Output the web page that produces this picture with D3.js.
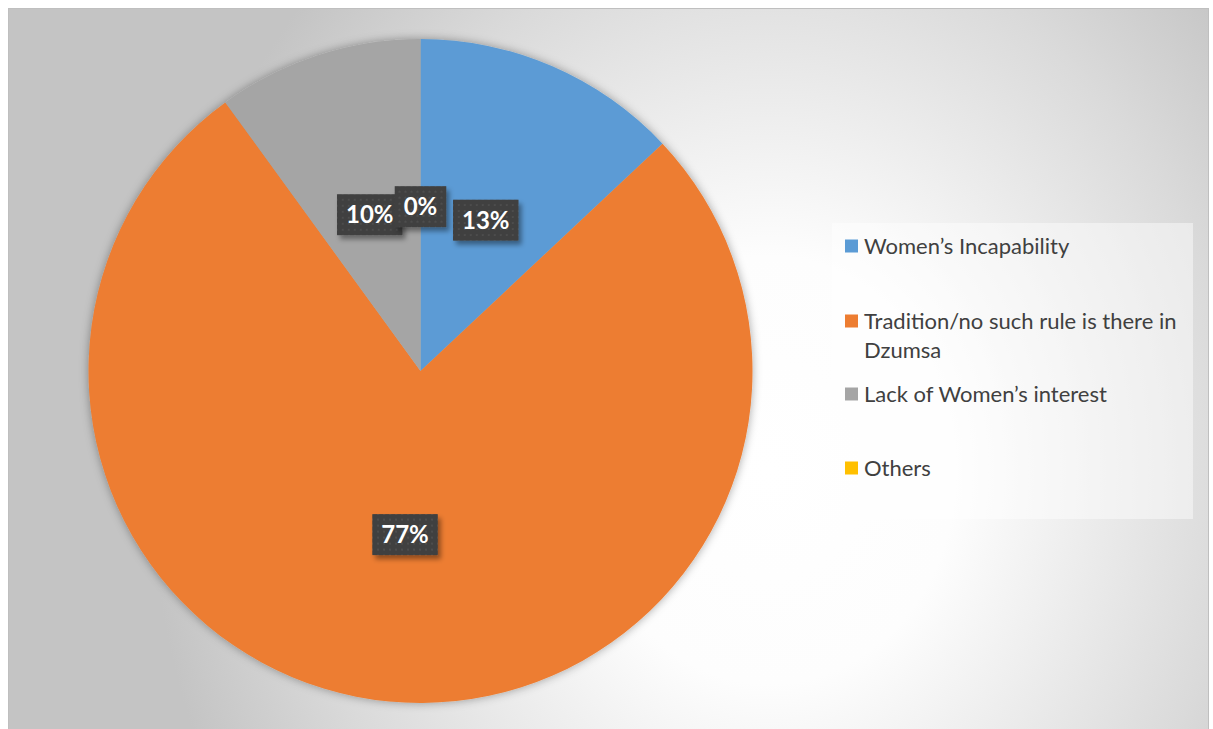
<!DOCTYPE html>
<html>
<head>
<meta charset="utf-8">
<script src="https://cdn.jsdelivr.net/npm/d3@7"></script>
<style>
  body { margin: 0; background: #fff; }
  svg { display: block; }
</style>
</head>
<body>
<svg id="chart"></svg>
<script>
// data
const categories = ["Women\u2019s Incapability", "Tradition/no such rule is there in Dzumsa", "Lack of Women\u2019s interest", "Others"];
const values = [13, 77, 10, 0];
const labels = ["13%", "77%", "10%", "0%"];
const colors = ["#5b9bd5", "#ed7d31", "#a5a5a5", "#ffc000"];
// legend lines (wrapped like the original)
const legendLines = [["Women\u2019s Incapability"], ["Tradition/no such rule is there in", "Dzumsa"], ["Lack of Women\u2019s interest"], ["Others"]];

const W = 1213, H = 729;
const svg = d3.select("#chart").attr("width", W).attr("height", H);
const defs = svg.append("defs");

// background gradient
const bg = defs.append("radialGradient")
    .attr("id", "bg")
    .attr("gradientUnits", "userSpaceOnUse")
    .attr("cx", 770).attr("cy", 470).attr("r", 620)
    .attr("gradientTransform", "translate(770,470) scale(1,1.15) translate(-770,-470)");
bg.append("stop").attr("offset", "0").attr("stop-color", "#ffffff");
bg.append("stop").attr("offset", "0.3").attr("stop-color", "#fdfdfd");
bg.append("stop").attr("offset", "0.75").attr("stop-color", "#dadada");
bg.append("stop").attr("offset", "1").attr("stop-color", "#c4c4c4");

// pie shadow
const pf = defs.append("filter").attr("id", "pieShadow")
    .attr("x", "-10%").attr("y", "-10%").attr("width", "120%").attr("height", "120%");
pf.append("feDropShadow").attr("dx", 0).attr("dy", 0).attr("stdDeviation", 5)
    .attr("flood-color", "#000").attr("flood-opacity", 0.35);

// label shadow
const lf = defs.append("filter").attr("id", "lblShadow")
    .attr("x", "-20%").attr("y", "-20%").attr("width", "150%").attr("height", "160%");
lf.append("feDropShadow").attr("dx", 3).attr("dy", 4).attr("stdDeviation", 2.5)
    .attr("flood-color", "#000").attr("flood-opacity", 0.4);

// dotted texture for label boxes
const pat = defs.append("pattern").attr("id", "dots")
    .attr("patternUnits", "userSpaceOnUse").attr("width", 6).attr("height", 6);
pat.append("rect").attr("width", 6).attr("height", 6).attr("fill", "#3f3f3f");
pat.append("rect").attr("x", 2).attr("y", 2).attr("width", 2).attr("height", 2).attr("fill", "#4d4d4d");

// chart area
svg.append("rect")
    .attr("x", 8.5).attr("y", 8.5)
    .attr("width", 1200).attr("height", 725)
    .attr("fill", "url(#bg)")
    .attr("stroke", "#bfbfbf").attr("stroke-width", 1);

// pie
const cx = 420.5, cy = 371, R = 332;
const pie = d3.pie().sort(null).value(d => d);
const arcs = pie(values);
const arc = d3.arc().innerRadius(0).outerRadius(R);
const labelArc = d3.arc().innerRadius(0).outerRadius(R * 0.99);

const g = svg.append("g").attr("transform", `translate(${cx},${cy})`);
g.append("g").attr("filter", "url(#pieShadow)")
  .selectAll("path")
  .data(arcs)
  .join("path")
    .attr("d", arc)
    .attr("fill", (d, i) => colors[i]);

// data labels
const lblG = g.append("g")
  .selectAll("g")
  .data(arcs)
  .join("g")
    .attr("transform", d => {
        const c = labelArc.centroid(d);
        return `translate(${c[0]},${c[1]})`;
    });

lblG.each(function(d, i) {
    const sel = d3.select(this);
    const rect = sel.append("rect").attr("fill", "url(#dots)").attr("filter", "url(#lblShadow)");
    const t = sel.append("text")
        .attr("text-anchor", "middle")
        .attr("dy", "0.36em")
        .attr("fill", "#ffffff")
        .style("font-family", "Lato, 'Open Sans', sans-serif")
        .style("font-weight", "bold")
        .style("font-size", "24px")
        .text(labels[i]);
    const w = t.node().getComputedTextLength() + 18;
    const h = 41;
    rect.attr("x", -w / 2).attr("y", -h / 2).attr("width", w).attr("height", h);
});

// legend
const legend = svg.append("g");
legend.append("rect")
    .attr("x", 832).attr("y", 223)
    .attr("width", 361).attr("height", 296)
    .attr("fill", "#ffffff").attr("fill-opacity", 0.45);

const rowY = [246, 321, 394, 468];
const items = legend.selectAll("g.item")
  .data(categories)
  .join("g")
    .attr("class", "item")
    .attr("transform", (d, i) => `translate(845,${rowY[i]})`);

items.append("rect")
    .attr("x", 0).attr("y", -6.5)
    .attr("width", 13).attr("height", 13)
    .attr("fill", (d, i) => colors[i]);

items.append("text")
    .attr("fill", "#404040")
    .style("font-family", "Lato, 'Open Sans', sans-serif")
    .style("font-size", "22px")
    .each(function(d, i) {
        const t = d3.select(this);
        legendLines[i].forEach((line, j) => {
            t.append("tspan").attr("x", 19).attr("y", j * 29).attr("dy", "0.35em").text(line);
        });
    });
</script>
</body>
</html>
